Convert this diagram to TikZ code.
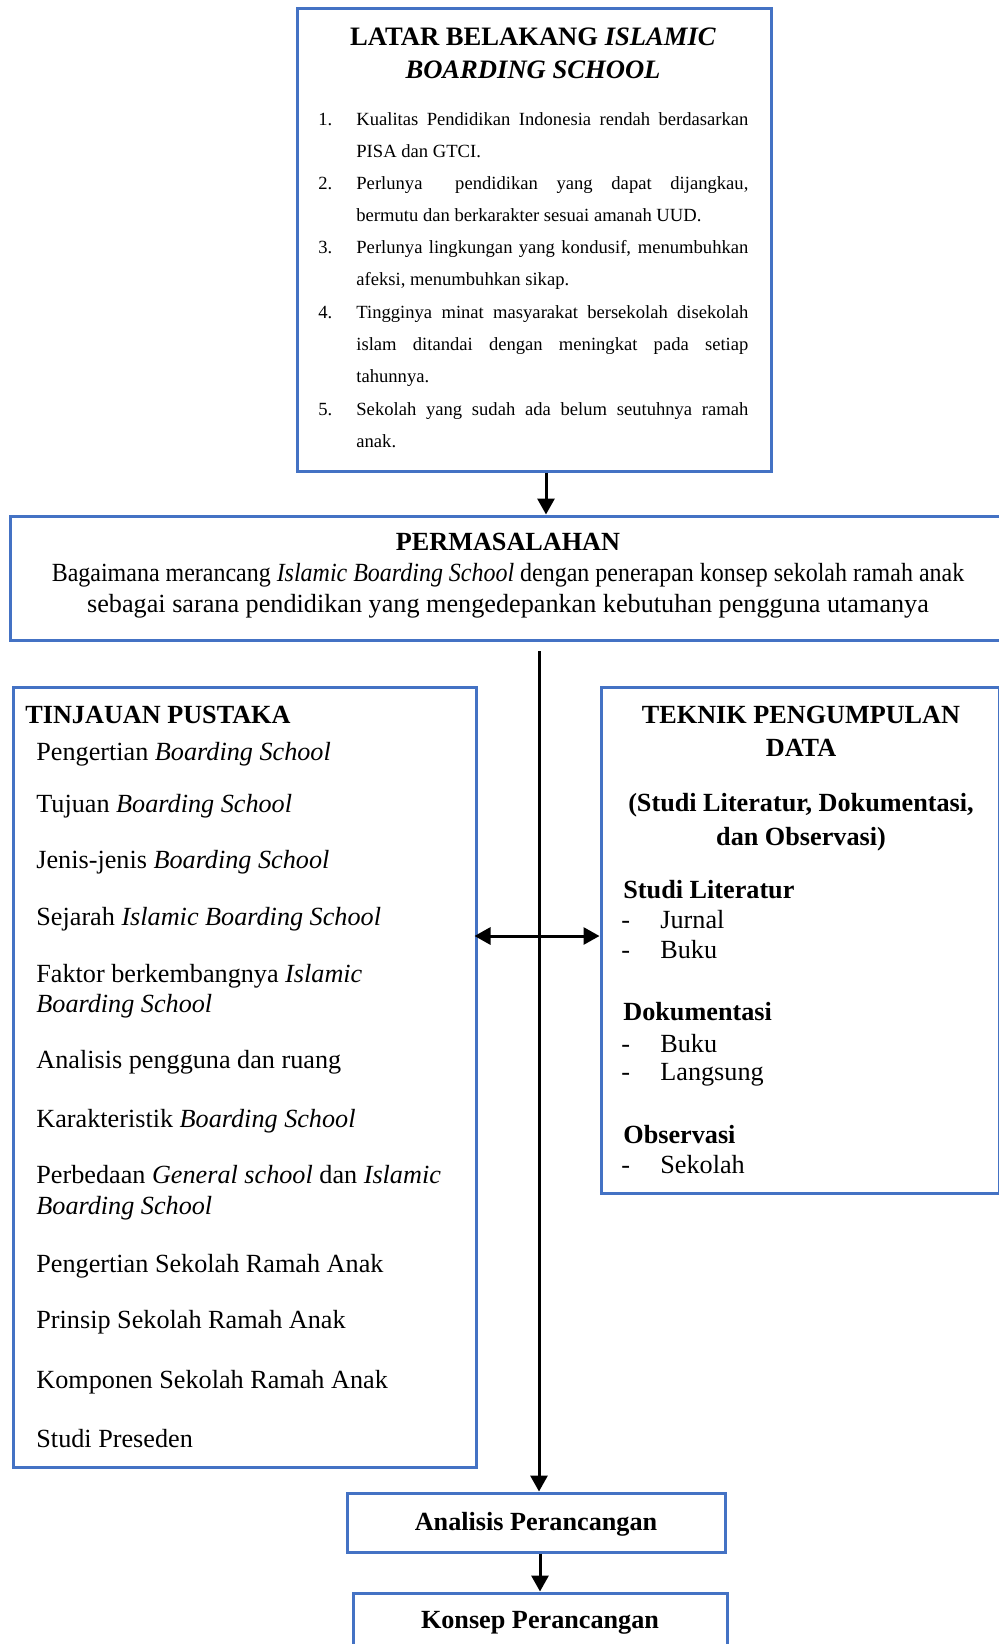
\documentclass[tikz,border=0pt]{standalone}
\usepackage{fontspec}
\usepackage{graphicx}
\setmainfont{Liberation Serif}
\usetikzlibrary{arrows.meta,fit}
\definecolor{boxblue}{RGB}{68,114,196}
\tikzstyle{bluebox}=[rectangle, draw=boxblue, line width=1.5pt, inner sep=0pt]
\tikzstyle{txt}=[inner sep=0pt, anchor=base west, font=\fontsize{13.1pt}{15pt}\selectfont]
\tikzstyle{txtmid}=[inner sep=0pt, anchor=base, font=\fontsize{13.1pt}{15pt}\selectfont]
\tikzstyle{txtsmall}=[inner sep=0pt, anchor=base west, font=\fontsize{9.3pt}{11pt}\selectfont]
\tikzstyle{arrowline}=[line width=1.5pt, -{Triangle[length=8pt,width=8.5pt]}]
\tikzstyle{dblarrow}=[line width=1.5pt, {Triangle[length=8pt,width=8.5pt]}-{Triangle[length=8pt,width=8.5pt]}]

\begin{document}
\begin{tikzpicture}[x=0.5pt,y=-0.5pt]
    \useasboundingbox (0,0) rectangle (999,1644);
    \begin{scope}
        \node (latar) [bluebox, fit={(297,8) (771,471)}] {};
        \node (masalah) [bluebox, fit={(10,516) (1012,640)}] {};
        \node (pustaka) [bluebox, fit={(13,687) (476,1467)}] {};
        \node (teknik) [bluebox, fit={(601,687) (999.5,1193)}] {};
        \node (analisis) [bluebox, fit={(347,1493) (725,1552)}] {};
        \node (konsep) [bluebox, fit={(353,1593) (727,1662)}] {};
    \end{scope}
    \begin{scope}
        % latar belakang
        \node (latarA) at (533,45) [txtmid, font=\fontsize{13.3pt}{15pt}\selectfont] {\textbf{LATAR BELAKANG \textit{ISLAMIC}}};
        \node (latarB) at (533,78) [txtmid, font=\fontsize{13.3pt}{15pt}\selectfont] {\textbf{\textit{BOARDING SCHOOL}}};
        \foreach \n/\y in {1/125, 2/189, 3/253, 4/318, 5/415}
            \node (num\n) at (318,\y) [txtsmall] {\n.};
        \node (poinA) at (356,125) [txtsmall] {\makebox[196pt][s]{Kualitas Pendidikan Indonesia rendah berdasarkan}};
        \node (poinB) at (356,157) [txtsmall] {PISA dan GTCI.};
        \node (poinC) at (356,189) [txtsmall] {\makebox[196pt][s]{Perlunya\hspace{7pt} pendidikan yang dapat dijangkau,}};
        \node (poinD) at (356,221) [txtsmall] {bermutu dan berkarakter sesuai amanah UUD.};
        \node (poinE) at (356,253) [txtsmall] {\makebox[196pt][s]{Perlunya lingkungan yang kondusif, menumbuhkan}};
        \node (poinF) at (356,285) [txtsmall] {afeksi, menumbuhkan sikap.};
        \node (poinG) at (356,318) [txtsmall] {\makebox[196pt][s]{Tingginya minat masyarakat bersekolah disekolah}};
        \node (poinH) at (356,350) [txtsmall] {\makebox[196pt][s]{islam ditandai dengan meningkat pada setiap}};
        \node (poinI) at (356,382) [txtsmall] {tahunnya.};
        \node (poinJ) at (356,415) [txtsmall] {\makebox[196pt][s]{Sekolah yang sudah ada belum seutuhnya ramah}};
        \node (poinK) at (356,447) [txtsmall] {anak.};
        % permasalahan
        \node (masalahA) at (508,550) [txtmid] {\textbf{PERMASALAHAN}};
        \node (masalahB) at (508,581) [txtmid] {\scalebox{0.915}[1]{Bagaimana merancang \textit{Islamic Boarding School} dengan penerapan konsep sekolah ramah anak}};
        \node (masalahC) at (508,612) [txtmid] {sebagai sarana pendidikan yang mengedepankan kebutuhan pengguna utamanya};
        % tinjauan pustaka
        \node (pustakaT) at (25,723) [txt] {\textbf{TINJAUAN PUSTAKA}};
        \foreach \y/\t [count=\i] in {760/{Pengertian \textit{Boarding School}},
                812/{Tujuan \textit{Boarding School}},
                868/{Jenis-jenis \textit{Boarding School}},
                925/{Sejarah \textit{Islamic Boarding School}},
                982/{Faktor berkembangnya \textit{Islamic}},
                1012/{\textit{Boarding School}},
                1068/{Analisis pengguna dan ruang},
                1127/{Karakteristik \textit{Boarding School}},
                1183/{Perbedaan \textit{General school} dan \textit{Islamic}},
                1214/{\textit{Boarding School}},
                1272/{Pengertian Sekolah Ramah Anak},
                1328/{Prinsip Sekolah Ramah Anak},
                1388/{Komponen Sekolah Ramah Anak},
                1447/{Studi Preseden}}
            \node (pustaka\i) at (36,\y) [txt] {\t};
        % teknik pengumpulan data
        \node (teknikA) at (801,723) [txtmid] {\textbf{TEKNIK PENGUMPULAN}};
        \node (teknikB) at (801,756) [txtmid] {\textbf{DATA}};
        \node (teknikC) at (801,811) [txtmid] {\textbf{(Studi Literatur, Dokumentasi,}};
        \node (teknikD) at (801,845) [txtmid] {\textbf{dan Observasi)}};
        \node (studi) at (623,898) [txt] {\textbf{Studi Literatur}};
        \node (dokumen) at (623,1020) [txt] {\textbf{Dokumentasi}};
        \node (observasi) at (623,1143) [txt] {\textbf{Observasi}};
        \foreach \y/\t [count=\i] in {928/Jurnal, 958/Buku, 1052/Buku, 1080/Langsung, 1173/Sekolah} {
            \node (dash\i) at (621,\y) [txt] {-};
            \node (sumber\i) at (660,\y) [txt] {\t};
        }
        % analisis dan konsep
        \node (analisisT) at (536,1530) [txtmid] {\textbf{Analisis Perancangan}};
        \node (konsepT) at (540,1628) [txtmid] {\textbf{Konsep Perancangan}};
    \end{scope}
    \begin{scope}
        \coordinate (turun) at (546,0);
        \coordinate (trunk) at (539,651);
        \coordinate (silang) at (539,936);
        \draw [arrowline] (latar.south -| turun) -- (masalah.north -| turun);
        \draw [arrowline] (trunk) -- (trunk |- analisis.north);
        \draw [dblarrow] ([xshift=-1.5pt]silang -| pustaka.east) -- (silang -| teknik.west);
        \draw [arrowline] (konsep.north |- analisis.south) -- (konsep.north);
    \end{scope}
\end{tikzpicture}
\end{document}
